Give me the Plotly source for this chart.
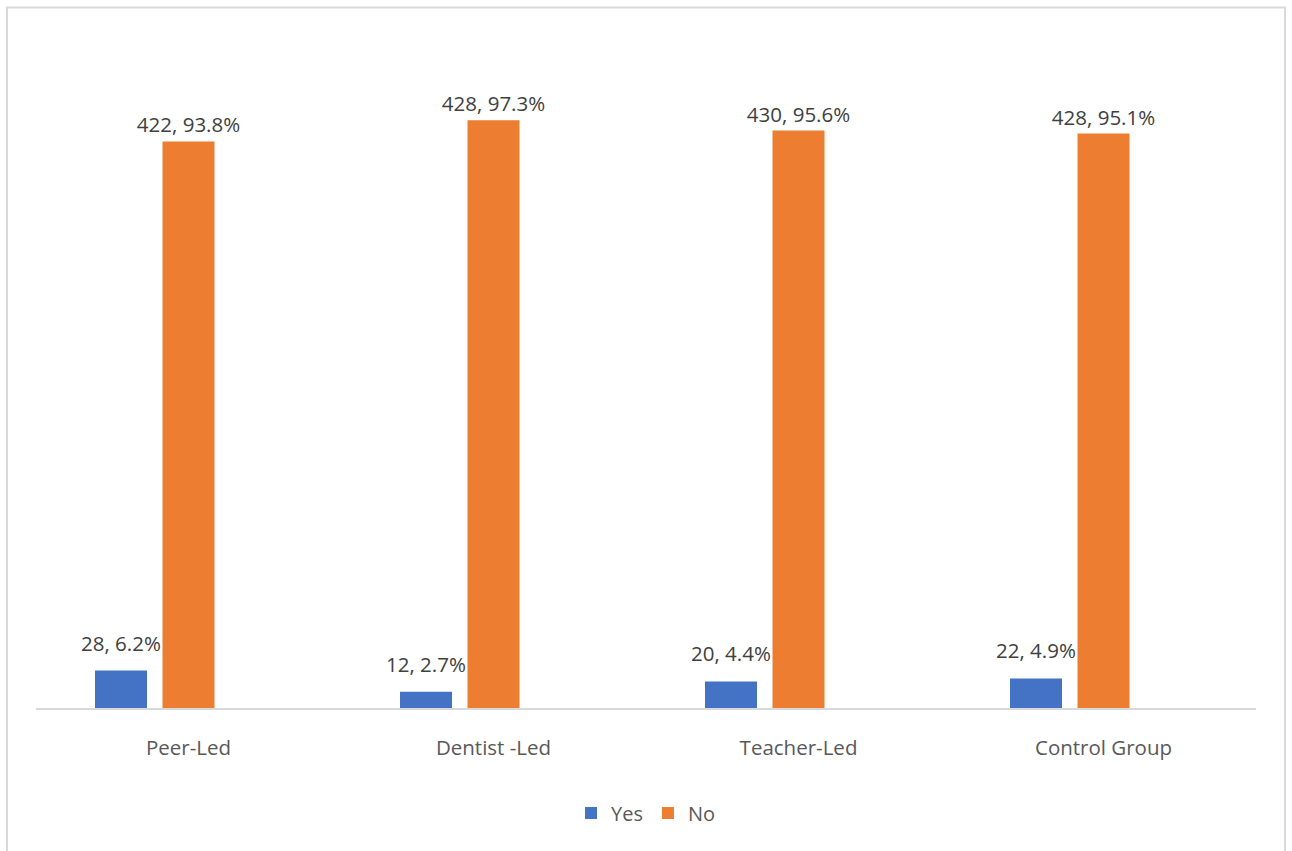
import plotly.graph_objects as go

categories = ["Peer-Led", "Dentist -Led", "Teacher-Led", "Control Group"]
yes_counts = [28, 12, 20, 22]
yes_pct = [6.2, 2.7, 4.4, 4.9]
no_counts = [422, 428, 430, 428]
no_pct = [93.8, 97.3, 95.6, 95.1]

W, H = 1292, 851
L, R, T, B = 36, 36, 103.5, 143
pw = W - L - R
ph = H - T - B

def px_x(x):
    return (x - L) / pw

def px_y(y):
    return (H - B - y) / ph

bar_w = 52 / 305
LABEL_SIZE = 20.5

fig = go.Figure()
fig.add_trace(go.Bar(
    name="Yes", x=categories, y=yes_pct,
    marker=dict(color="#4472C4", line=dict(width=0)),
    width=bar_w, offset=-93.5 / 305, hoverinfo="skip",
))
fig.add_trace(go.Bar(
    name="No", x=categories, y=no_pct,
    text=[f"{n}, {p}%" for n, p in zip(no_counts, no_pct)],
    textposition="outside", cliponaxis=False, constraintext="none",
    textfont=dict(color="#404040", size=LABEL_SIZE),
    marker=dict(color="#ED7D31", line=dict(width=0)),
    width=bar_w, offset=-26 / 305, hoverinfo="skip",
))

annotations = [
    dict(x=c, y=p, xref="x", yref="y", text=f"{n}, {p}%", showarrow=False,
         xanchor="center", yanchor="bottom", xshift=-67.5, yshift=12,
         font=dict(color="#404040", size=LABEL_SIZE, family="Open Sans"))
    for c, n, p in zip(categories, yes_counts, yes_pct)
]

fig.update_layout(
    width=W, height=H,
    margin=dict(l=L, r=R, t=T, b=B, pad=0),
    autosize=False,
    barmode="overlay",
    paper_bgcolor="white", plot_bgcolor="white",
    font=dict(family="Open Sans", color="#595959", size=20.5),
    showlegend=True,
    legend=dict(orientation="h", x=0.5, xanchor="center", y=px_y(813), yanchor="middle",
                font=dict(size=20, color="#595959"), itemwidth=30, traceorder="normal",
                bgcolor="rgba(0,0,0,0)"),
    xaxis=dict(showgrid=False, zeroline=False, showline=True, linecolor="#D9D9D9", linewidth=2,
               ticks="", tickfont=dict(size=20.5, color="#595959"), ticklabelstandoff=20,
               fixedrange=True),
    yaxis=dict(range=[0, 100], visible=False, fixedrange=True),
    annotations=annotations,
    shapes=[dict(type="rect", xref="paper", yref="paper",
                 x0=px_x(7), x1=px_x(1285), y0=px_y(900), y1=px_y(7),
                 line=dict(color="#D9D9D9", width=2), fillcolor="rgba(0,0,0,0)", layer="below")],
)

fig.write_html("out.html", config={"displayModeBar": False})
